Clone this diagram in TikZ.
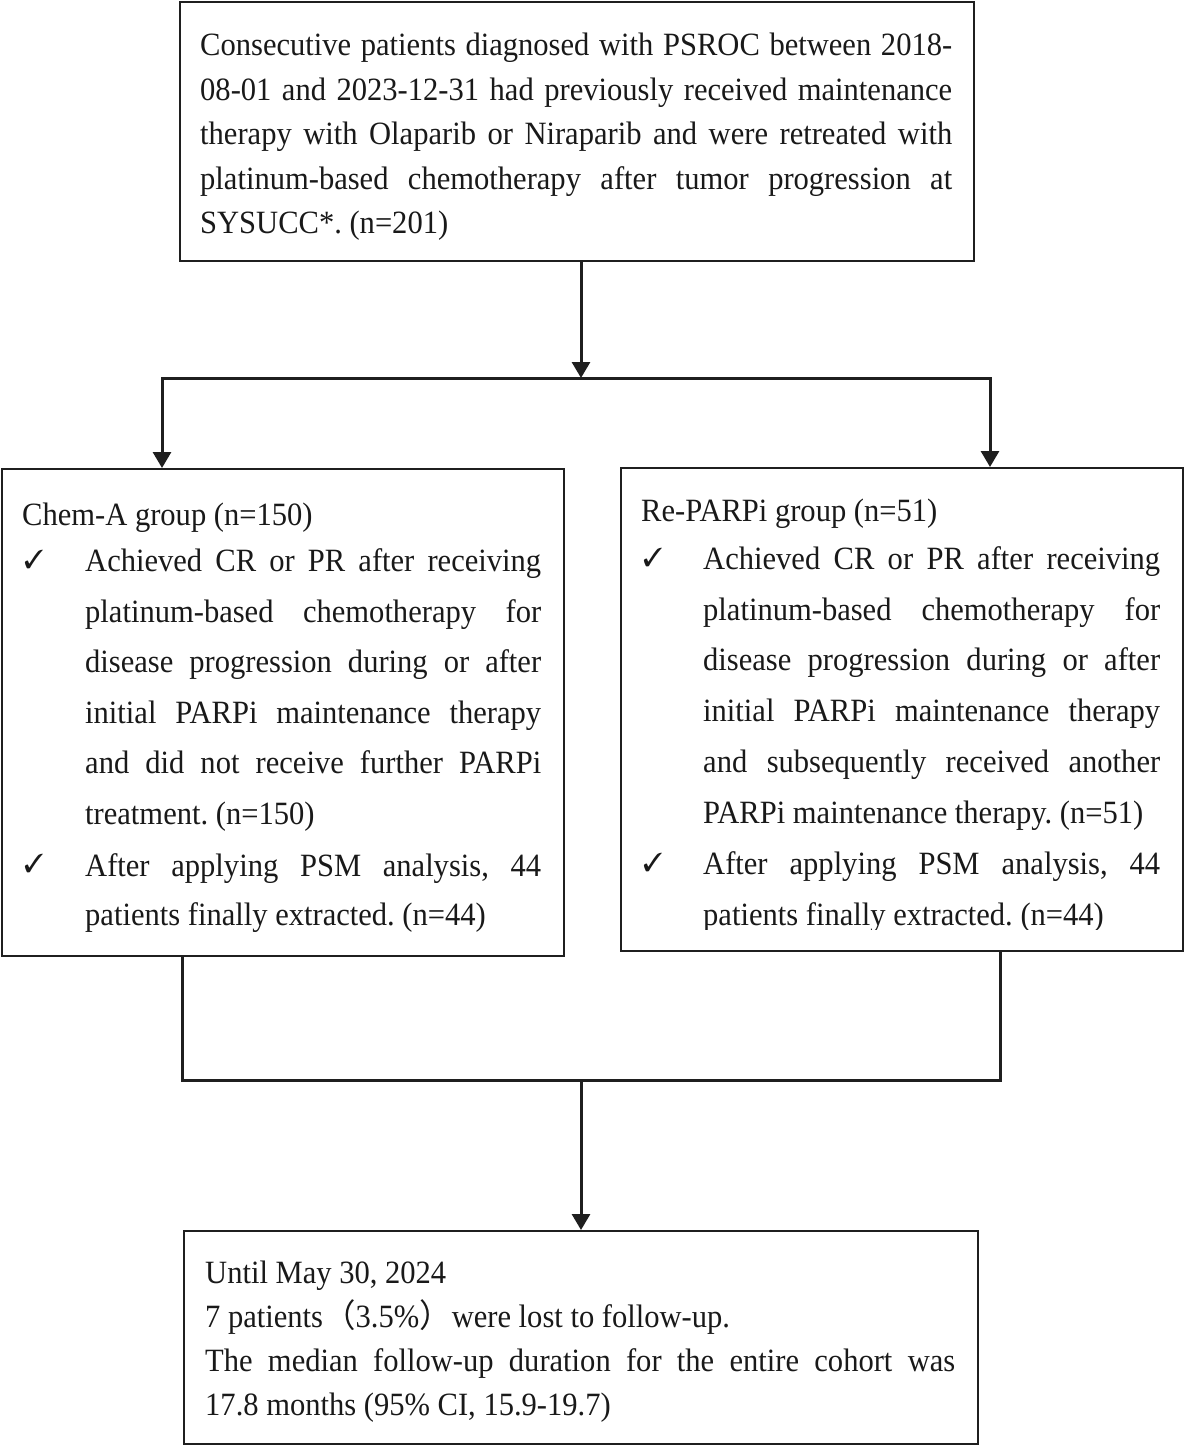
\documentclass[tikz,border=0pt]{standalone}
\usepackage{fontspec}
\setmainfont{Liberation Serif}[FakeStretch=0.94]
\newfontfamily\cjk{Noto Sans CJK SC}
\usepackage{pifont}
\usetikzlibrary{arrows.meta}
\newcommand\jline[2]{\makebox[#1pt][s]{#2}}
\frenchspacing
\begin{document}
\begin{tikzpicture}[x=1pt,y=-1pt,
  box/.style={draw=black!88, line width=2.2pt, rectangle, inner sep=0pt, anchor=north west},
  conn/.style={draw=black!88, line width=3pt},
  tip/.style={-{Triangle[width=18pt,length=16pt]}},
  txt/.style={anchor=base west, inner sep=0pt, font=\fontsize{32.5}{39}\selectfont, text=black!90},
  chk/.style={anchor=base west, inner sep=0pt, font=\fontsize{26}{26}\selectfont, text=black!90}]
\fill[white] (0,0) rectangle (1183,1445);
\useasboundingbox (0,0) rectangle (1183,1445);

% boxes
\node[box, minimum width=794pt, minimum height=259pt] (top) at (179,1) {};
\node[box, minimum width=562pt, minimum height=487pt] (left) at (1,468) {};
\node[box, minimum width=562pt, minimum height=483pt] (right) at (620,467) {};
\node[box, minimum width=794pt, minimum height=213pt] (bottom) at (183,1230) {};

% top text
\node[txt] (t1) at (200,55.5) {\jline{752}{Consecutive patients diagnosed with PSROC between 2018-}};
\node[txt] (t2) at (200,100) {\jline{752}{08-01 and 2023-12-31 had previously received maintenance}};
\node[txt] (t3) at (200,144.5) {\jline{752}{therapy with Olaparib or Niraparib and were retreated with}};
\node[txt] (t4) at (200,189) {\jline{752}{platinum-based chemotherapy after tumor progression at}};
\node[txt] (t5) at (200,233.5) {SYSUCC*. (n=201)};

% left text
\node[txt] (l0) at (22,525) {Chem-A group (n=150)};
\node[chk] (lc1) at (24,568) {\ding{51}};
\node[txt] (l1) at (85,571.5) {\jline{456}{Achieved CR or PR after receiving}};
\node[txt] (l2) at (85,622.1) {\jline{456}{platinum-based chemotherapy for}};
\node[txt] (l3) at (85,672.7) {\jline{456}{disease progression during or after}};
\node[txt] (l4) at (85,723.3) {\jline{456}{initial PARPi maintenance therapy}};
\node[txt] (l5) at (85,773.9) {\jline{456}{and did not receive further PARPi}};
\node[txt] (l6) at (85,824.5) {treatment. (n=150)};
\node[chk] (lc2) at (24,872.5) {\ding{51}};
\node[txt] (l7) at (85,876) {\jline{456}{After applying PSM analysis, 44}};
\node[txt] (l8) at (85,925.7) {patients finally extracted. (n=44)};

% right text
\node[txt] (r0) at (641,521.5) {Re-PARPi group (n=51)};
\node[chk] (rc1) at (643,566) {\ding{51}};
\node[txt] (r1) at (703,569.5) {\jline{457}{Achieved CR or PR after receiving}};
\node[txt] (r2) at (703,620.1) {\jline{457}{platinum-based chemotherapy for}};
\node[txt] (r3) at (703,670.7) {\jline{457}{disease progression during or after}};
\node[txt] (r4) at (703,721.9) {\jline{457}{initial PARPi maintenance therapy}};
\node[txt] (r5) at (703,772.7) {\jline{457}{and subsequently received another}};
\node[txt] (r6) at (703,823.3) {PARPi maintenance therapy. (n=51)};
\node[chk] (rc2) at (643,871) {\ding{51}};
\node[txt] (r7) at (703,874.5) {\jline{457}{After applying PSM analysis, 44}};
\begin{scope}
\clip (620,880) rectangle (1182,929);
\node[txt] (r8) at (703,925) {patients finally extracted. (n=44)};
\end{scope}

% bottom text
\node[txt] (b1) at (205,1283) {Until May 30, 2024};
\node[txt] (b2) at (205,1327) {7 patients{\cjk （}3.5\%{\cjk ）}were lost to follow-up.};
\node[txt] (b3) at (205,1371) {\jline{750}{The median follow-up duration for the entire cohort was}};
\node[txt] (b4) at (205,1415) {17.8 months (95\% CI, 15.9-19.7)};

% connectors
\coordinate (s1) at (581,378);
\coordinate (sl) at (162,378);
\coordinate (sr) at (990,378);
\draw[conn, tip] (top.south -| s1) -- (s1);
\draw[conn, {Triangle[width=18pt,length=16pt]}-{Triangle[width=18pt,length=16pt]}]
  (left.north -| sl) -- (sl) -- (sr) -- (right.north -| sr);

\coordinate (m1) at (182,1080);
\coordinate (m2) at (1000,1080);
\coordinate (m3) at (581,1080);
\draw[conn] (left.south -| m1) -- (m1) -- (m2) -- (right.south -| m2);
\draw[conn, tip] (m3) -- (bottom.north -| m3);
\end{tikzpicture}
\end{document}
